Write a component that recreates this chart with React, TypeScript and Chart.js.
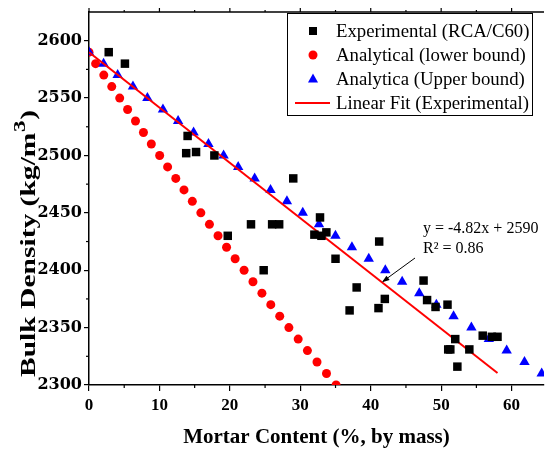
import React, { useEffect, useRef } from 'react';
import { Chart, registerables } from 'chart.js';

Chart.register(...registerables);

// ---- Data ----
const expX = [2.8, 5.1, 14.0, 13.8, 15.2, 17.8, 29.0, 19.7, 23.0, 26.0, 27.0, 24.8, 32.0, 32.8, 33.0, 33.7, 35.0, 41.2, 37.0, 38.0, 42.0, 41.1, 47.5, 48.0, 49.2, 50.9, 52.0, 51.0, 51.3, 52.3, 54.0, 55.9, 57.2, 58.0];
const expY = [2590, 2580, 2517, 2502, 2503, 2500, 2480, 2430, 2440, 2440, 2440, 2400, 2431, 2446, 2430, 2433, 2410, 2425, 2365, 2385, 2375, 2367, 2391, 2374, 2368, 2370, 2340, 2331, 2331, 2316, 2331, 2343, 2342, 2342];

const lowerX = [0, 0.94, 2.1, 3.23, 4.36, 5.48, 6.6, 7.73, 8.85, 10.03, 11.16, 12.32, 13.49, 14.67, 15.88, 17.1, 18.32, 19.53, 20.75, 22.02, 23.28, 24.55, 25.81, 27.08, 28.38, 29.7, 31.01, 32.37, 33.72, 35.08];
const lowerY = [2590, 2580, 2570, 2560, 2550, 2540, 2530, 2520, 2510, 2500, 2490, 2480, 2470, 2460, 2450, 2440, 2430, 2420, 2410, 2400, 2390, 2380, 2370, 2360, 2350, 2340, 2330, 2320, 2310, 2300];

const upperX = [0, 2.07, 4.07, 6.24, 8.29, 10.5, 12.65, 14.85, 16.96, 19.11, 21.18, 23.52, 25.77, 28.1, 30.35, 32.65, 34.99, 37.33, 39.72, 42.07, 44.46, 46.89, 49.32, 51.76, 54.29, 56.77, 59.3, 61.83, 64.27];
const upperY = [2590, 2580, 2570, 2560, 2550, 2540, 2530, 2520, 2510, 2500, 2490, 2480, 2470, 2460, 2450, 2440, 2430, 2420, 2410, 2400, 2390, 2380, 2370, 2360, 2350, 2340, 2330, 2320, 2310];

const fitX = [0, 58];
const fitY = [2590, 2310.4];

const seriesLabels = ['Experimental (RCA/C60)', 'Analytical (lower bound)', 'Analytica (Upper bound)', 'Linear Fit (Experimental)'];
const fitEquation = 'y = -4.82x + 2590';
const fitR2 = 'R\u00B2 = 0.86';

const xTickValues = [0, 10, 20, 30, 40, 50, 60];
const xMinorValues = [5, 15, 25, 35, 45, 55];
const yTickValues = [2300, 2350, 2400, 2450, 2500, 2550, 2600];
const yMinorValues = [2325, 2375, 2425, 2475, 2525, 2575];
const xMin = 0, xMax = 64.6;
const yMin = 2300, yMax = 2625;

const SERIF = '"Liberation Serif", "Times New Roman", serif';

const toPts = (xs: number[], ys: number[]) => xs.map((x, i) => ({ x, y: ys[i] }));

const decorPlugin = {
  id: 'decor',
  afterDraw(chart: any) {
    const ctx = chart.ctx as CanvasRenderingContext2D;
    const { left, right, top, bottom } = chart.chartArea;
    const xs = chart.scales.x;
    const ys = chart.scales.y;
    ctx.save();
    ctx.strokeStyle = '#000';
    // top frame line
    ctx.lineWidth = 1.5;
    ctx.beginPath();
    ctx.moveTo(left, top);
    ctx.lineTo(right, top);
    ctx.stroke();
    ctx.lineWidth = 1.2;
    // minor ticks on bottom x axis
    xMinorValues.forEach((v) => {
      const px = xs.getPixelForValue(v);
      ctx.beginPath();
      ctx.moveTo(px, bottom);
      ctx.lineTo(px, bottom + 3);
      ctx.stroke();
    });
    // ticks on top frame
    [...xTickValues, ...xMinorValues].forEach((v) => {
      const px = xs.getPixelForValue(v);
      const isMajor = xTickValues.includes(v);
      ctx.beginPath();
      ctx.moveTo(px, top);
      ctx.lineTo(px, top - (isMajor ? 4 : 2));
      ctx.stroke();
    });
    // minor ticks on y
    yMinorValues.forEach((v) => {
      const py = ys.getPixelForValue(v);
      ctx.beginPath();
      ctx.moveTo(left, py);
      ctx.lineTo(left - 3, py);
      ctx.stroke();
    });

    // ---- Legend (boxed, inside plot) ----
    const bx = 287.5, by = 13.5, bw = 245, bh = 102;
    ctx.fillStyle = '#fff';
    ctx.fillRect(bx, by, bw, bh);
    ctx.lineWidth = 1;
    ctx.strokeStyle = '#000';
    ctx.strokeRect(bx, by, bw, bh);
    const rows = [31, 55, 79, 103];
    const mx = 313;
    ctx.font = `18.8px ${SERIF}`;
    ctx.textBaseline = 'alphabetic';
    ctx.textAlign = 'left';
    chart.data.datasets.forEach((ds: any, i: number) => {
      const cy = rows[i];
      ctx.fillStyle = ds.backgroundColor;
      ctx.strokeStyle = ds.borderColor;
      if (ds.pointStyle === 'rect') {
        ctx.fillRect(mx - 4, cy - 4, 8, 8);
      } else if (ds.pointStyle === 'circle') {
        ctx.beginPath();
        ctx.arc(mx, cy, 4.5, 0, Math.PI * 2);
        ctx.fill();
      } else if (ds.pointStyle === 'triangle') {
        ctx.beginPath();
        ctx.moveTo(mx, cy - 5.5);
        ctx.lineTo(mx + 5, cy + 3.5);
        ctx.lineTo(mx - 5, cy + 3.5);
        ctx.closePath();
        ctx.fill();
      } else {
        ctx.lineWidth = 2;
        ctx.beginPath();
        ctx.moveTo(295, cy);
        ctx.lineTo(330, cy);
        ctx.stroke();
      }
      ctx.fillStyle = '#000';
      ctx.fillText(ds.label, 336, cy + 6);
    });

    // ---- Fit annotation ----
    ctx.fillStyle = '#000';
    ctx.font = `16px ${SERIF}`;
    ctx.fillText(fitEquation, 423, 233);
    ctx.fillText(fitR2, 423, 253);
    const ax0 = 415, ay0 = 258;
    const tx = xs.getPixelForValue(41.6);
    const ty = ys.getPixelForValue(fitY[0] + (fitY[1] - fitY[0]) * (41.6 - fitX[0]) / (fitX[1] - fitX[0]));
    ctx.strokeStyle = '#000';
    ctx.lineWidth = 1;
    ctx.beginPath();
    ctx.moveTo(ax0, ay0);
    ctx.lineTo(tx + 1, ty - 1);
    ctx.stroke();
    const ang = Math.atan2(ty - ay0, tx - ax0);
    ctx.beginPath();
    ctx.moveTo(tx, ty);
    ctx.lineTo(tx - 8 * Math.cos(ang - 0.35), ty - 8 * Math.sin(ang - 0.35));
    ctx.lineTo(tx - 8 * Math.cos(ang + 0.35), ty - 8 * Math.sin(ang + 0.35));
    ctx.closePath();
    ctx.fill();

    // ---- Y axis title (rotated) ----
    ctx.save();
    ctx.translate(35, 377);
    ctx.rotate(-Math.PI / 2);
    const mainFont = `bold 22px ${SERIF}`;
    const supFont = `bold 17px ${SERIF}`;
    const p1 = 'Bulk Density (kg/m';
    const p2 = '3';
    const p3 = ')';
    ctx.font = mainFont;
    const w1 = ctx.measureText(p1).width;
    const w3 = ctx.measureText(p3).width;
    ctx.font = supFont;
    const w2 = ctx.measureText(p2).width;
    const total = w1 + w2 + w3 + 1;
    const k = 267 / total;
    ctx.scale(k, 1);
    ctx.textAlign = 'left';
    ctx.textBaseline = 'alphabetic';
    ctx.font = mainFont;
    ctx.fillText(p1, 0, 0);
    ctx.font = supFont;
    ctx.fillText(p2, w1 + 0.5, -10);
    ctx.font = mainFont;
    ctx.fillText(p3, w1 + w2 + 1, 0);
    ctx.restore();

    ctx.restore();
  },
};

export default function App() {
  const ref = useRef<HTMLCanvasElement | null>(null);
  useEffect(() => {
    document.body.style.margin = '0';
    const canvas = ref.current!;
    const chart = new Chart(canvas, {
      type: 'scatter',
      data: {
        datasets: [
          {
            label: seriesLabels[0],
            data: toPts(expX, expY),
            pointStyle: 'rect',
            pointRadius: 6,
            backgroundColor: '#000000',
            borderColor: '#000000',
            borderWidth: 0,
            order: 0,
          },
          {
            label: seriesLabels[1],
            data: toPts(lowerX, lowerY),
            pointStyle: 'circle',
            pointRadius: 4.5,
            backgroundColor: '#ff0000',
            borderColor: '#ff0000',
            borderWidth: 0,
            order: 3,
          },
          {
            label: seriesLabels[2],
            data: toPts(upperX, upperY),
            pointStyle: 'triangle',
            pointRadius: 6,
            backgroundColor: '#0000ff',
            borderColor: '#0000ff',
            borderWidth: 0,
            order: 2,
          },
          {
            label: seriesLabels[3],
            data: toPts(fitX, fitY),
            showLine: true,
            pointRadius: 0,
            pointStyle: 'line',
            backgroundColor: '#ff0000',
            borderColor: '#ff0000',
            borderWidth: 2,
            order: 1,
          } as any,
        ],
      },
      options: {
        animation: false,
        responsive: false,
        layout: { padding: { top: 12, right: 1, left: 0, bottom: 0 } },
        plugins: {
          legend: { display: false },
          tooltip: { enabled: false },
        },
        scales: {
          x: {
            type: 'linear',
            min: xMin,
            max: xMax,
            ticks: {
              color: '#000',
              padding: 4,
              font: { family: SERIF, weight: 'bold', size: 17 },
              callback: (v: any) => String(v),
            },
            afterBuildTicks: (s: any) => {
              s.ticks = xTickValues.map((value) => ({ value }));
            },
            afterFit: (s: any) => {
              s.height = 65;
            },
            grid: { display: true, drawOnChartArea: false, drawTicks: true, tickLength: 6, color: '#000', lineWidth: 1.2 },
            border: { display: true, color: '#000', width: 1.5 },
            title: {
              display: true,
              text: 'Mortar Content (%, by mass)',
              color: '#000',
              font: { family: SERIF, weight: 'bold', size: 21 },
              padding: { top: 0, bottom: 0 },
            },
          },
          y: {
            type: 'linear',
            min: yMin,
            max: yMax,
            ticks: {
              color: '#000',
              padding: 2,
              font: { family: '"DejaVu Serif", serif', weight: 'bold', size: 16 },
              callback: (v: any) => String(v),
            },
            afterBuildTicks: (s: any) => {
              s.ticks = yTickValues.map((value) => ({ value }));
            },
            afterFit: (s: any) => {
              s.width = 89;
            },
            grid: { display: true, drawOnChartArea: false, drawTicks: true, tickLength: 5, color: '#000', lineWidth: 1.2 },
            border: { display: true, color: '#000', width: 1.5 },
          },
        },
      },
      plugins: [decorPlugin],
    });
    return () => chart.destroy();
  }, []);
  return (
    <div style={{ width: 550, height: 450 }}>
      <canvas ref={ref} width={550} height={450} style={{ display: 'block' }} />
    </div>
  );
}
